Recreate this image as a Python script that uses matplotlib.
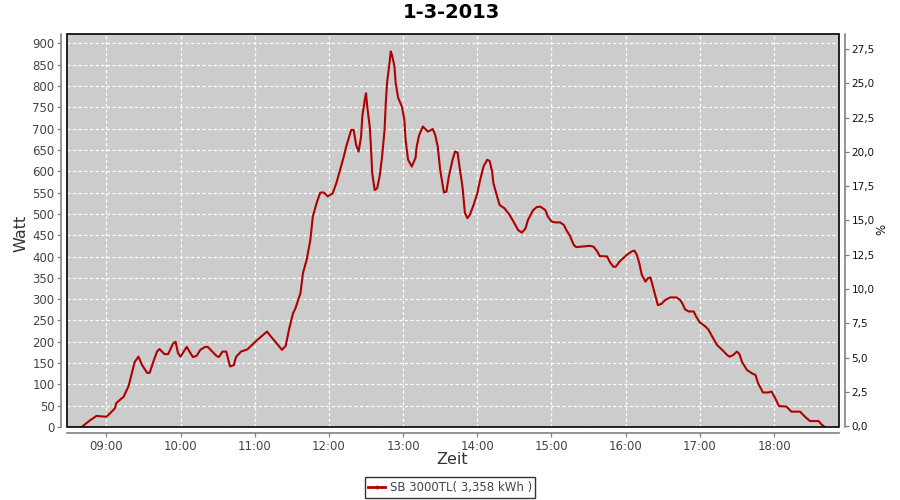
import matplotlib
matplotlib.use("Agg")
import matplotlib.pyplot as plt
from matplotlib.patches import Rectangle

times = ["08:40","08:47","08:52","09:00","09:03","09:07","09:08","09:14","09:18","09:21",
         "09:23","09:26","09:29","09:33","09:35","09:38","09:41","09:43","09:47","09:50",
         "09:54","09:56","09:58","10:00","10:05","10:10","10:13","10:16","10:20","10:22",
         "10:29","10:31","10:34","10:37","10:40","10:43","10:45","10:49","10:54","11:02",
         "11:10","11:12","11:19","11:22","11:25","11:28","11:31","11:33","11:37","11:39",
         "11:42","11:45","11:47","11:50","11:53","11:56","11:59","12:03","12:06","12:09",
         "12:12","12:14","12:18","12:20","12:22","12:24","12:26","12:27","12:29","12:30",
         "12:31","12:33","12:34","12:35","12:37","12:39","12:41","12:43","12:45","12:46",
         "12:47","12:49","12:50","12:51","12:53","12:54","12:56","12:59","13:01","13:02",
         "13:04","13:07","13:10","13:11","13:13","13:16","13:20","13:24","13:26","13:28",
         "13:30","13:33","13:35","13:37","13:40","13:42","13:44","13:46","13:48","13:50",
         "13:52","13:54","13:57","14:00","14:02","14:05","14:08","14:10","14:12","14:13",
         "14:16","14:18","14:22","14:26","14:30","14:33","14:36","14:39","14:41","14:45",
         "14:48","14:51","14:55","14:57","15:00","15:03","15:07","15:10","15:12","15:15",
         "15:18","15:20","15:24","15:31","15:34","15:37","15:39","15:45","15:47","15:50",
         "15:52","15:55","16:01","16:05","16:07","16:09","16:11","16:13","16:16","16:18",
         "16:20","16:22","16:24","16:26","16:29","16:32","16:36","16:41","16:44","16:46",
         "16:48","16:51","16:55","16:57","17:00","17:04","17:07","17:10","17:14","17:18",
         "17:22","17:24","17:27","17:30","17:32","17:34","17:38","17:42","17:45","17:47",
         "17:51","17:55","17:58","18:01","18:04","18:10","18:14","18:21","18:25","18:29",
         "18:36","18:38","18:41"]
watt = [0,16,26,24,32,44,56,71,96,130,
        153,165,145,127,127,153,177,183,171,171,
        196,200,173,165,188,164,167,181,188,188,
        167,164,177,177,142,145,165,177,182,204,
        224,216,192,181,190,232,267,279,314,361,
        392,439,494,525,550,550,541,548,572,603,
        634,658,697,697,662,646,681,728,768,783,
        752,705,658,596,556,560,588,634,697,760,
        807,854,881,873,846,807,772,752,721,674,
        627,611,631,658,685,705,693,699,685,658,
        603,550,552,588,627,646,644,603,564,502,
        490,498,521,548,576,611,627,624,599,572,
        541,521,513,498,478,462,456,466,486,508,
        516,517,509,494,482,480,480,474,462,448,
        427,422,423,425,423,412,401,400,388,376,
        376,388,404,412,414,404,384,357,341,349,
        351,329,306,286,289,298,304,304,298,289,
        276,271,271,259,245,237,228,212,192,181,
        169,165,169,177,171,153,134,126,122,103,
        81,81,83,67,49,48,36,36,24,14,
        14,7,0]

hour_ticks = [9, 10, 11, 12, 13, 14, 15, 16, 17, 18]
hour_labels = ["09:00","10:00","11:00","12:00","13:00","14:00","15:00","16:00","17:00","18:00"]
watt_ticks = list(range(0, 901, 50))
pct_ticks = [0.0, 2.5, 5.0, 7.5, 10.0, 12.5, 15.0, 17.5, 20.0, 22.5, 25.0, 27.5]
pct_labels = ["0,0","2,5","5,0","7,5","10,0","12,5","15,0","17,5","20,0","22,5","25,0","27,5"]
title = "1-3-2013"
legend_label = "SB 3000TL( 3,358 kWh )"

x = [int(t[:2]) + int(t[3:]) / 60.0 for t in times]

W, H = 900, 500
fig = plt.figure(figsize=(9, 5), dpi=100)
L, R, T, B = 67, 839, 34, 427
ax = fig.add_axes([L / W, 1 - B / H, (R - L) / W, (B - T) / H])
ax.set_facecolor("#cccccc")

ax.plot(x, watt, color="#b00000", lw=1.5, solid_joinstyle="round", zorder=3)
ax.set_xlim(8.47, 18.875)
ax.set_ylim(0, 922)
ax.set_xticks(hour_ticks)
ax.set_xticklabels(hour_labels)
ax.set_yticks(watt_ticks)
ax.grid(True, color="white", linestyle=(0, (2.5, 2)), lw=0.9)
ax.set_axisbelow(True)

gray = "#808080"
for s in ["top", "right"]:
    ax.spines[s].set_visible(False)
for s in ["left", "bottom"]:
    ax.spines[s].set_position(("outward", 4))
    ax.spines[s].set_color(gray)
    ax.spines[s].set_linewidth(1.2)
ax.tick_params(axis="both", colors=gray, length=3, width=0.9, labelsize=8.5,
               labelcolor="#444444", pad=2)

ax2 = ax.twinx()
ax2.set_ylim(-0.07, 28.6)
ax2.set_yticks(pct_ticks)
ax2.set_yticklabels(pct_labels)
for s in ["top", "left", "bottom"]:
    ax2.spines[s].set_visible(False)
ax2.spines["right"].set_position(("outward", 4))
ax2.spines["right"].set_color(gray)
ax2.spines["right"].set_linewidth(1.2)
ax2.tick_params(axis="y", colors=gray, length=3, width=0.9, labelsize=7.5,
                labelcolor="#111111", pad=2)

ax.add_patch(Rectangle((0, 0), 1, 1, transform=ax.transAxes, fill=False,
                       edgecolor="black", lw=1.2, zorder=5, clip_on=False))

fig.text(451 / W, 1 - 13 / H, title, ha="center", va="center",
         fontsize=14, fontweight="bold", color="black")
fig.text(21 / W, 1 - 233 / H, "Watt", ha="center", va="center", rotation=90,
         fontsize=11.5, color="#333333")
fig.text(452 / W, 1 - 460 / H, "Zeit", ha="center", va="center",
         fontsize=11.5, color="#333333")
fig.text(882 / W, 1 - 229 / H, "%", ha="center", va="center", rotation=90,
         fontsize=8.5, color="#111111")

line, = ax.plot([], [], color="#b00000", lw=2, marker="|", markersize=3)
leg = fig.legend([line], [legend_label], loc="center", bbox_to_anchor=(450 / W, 1 - 487.5 / H),
                 frameon=True, fancybox=False, fontsize=8.5, handlelength=1.4,
                 handletextpad=0.4, borderpad=0.3, borderaxespad=0)
leg.get_frame().set_edgecolor("black")
leg.get_frame().set_linewidth(1.0)
for t in leg.get_texts():
    t.set_color("#444444")

fig.savefig("out.png", dpi=100)
